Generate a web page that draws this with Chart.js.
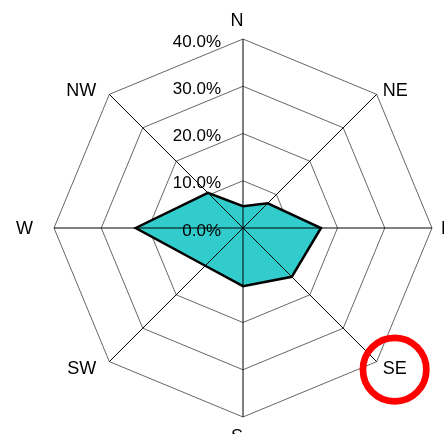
<!DOCTYPE html>
<html>
<head>
<meta charset="utf-8">
<script src="https://cdn.jsdelivr.net/npm/chart.js@4.4.1/dist/chart.umd.min.js"></script>
<style>
  html, body { margin: 0; padding: 0; background: #fff; overflow: hidden; }
  #wrap { position: relative; width: 444px; height: 434px; }
</style>
</head>
<body>
<div id="wrap"><canvas id="windChart" width="444" height="434"></canvas></div>
<script>
// wind direction frequency (%)
const directions = ["N", "NE", "E", "SE", "S", "SW", "W", "NW"];
const frequency = [4.6, 7.4, 16.5, 14.6, 12.3, 11.3, 22.7, 10.5];
const tickValues = [0, 10, 20, 30, 40];
const highlighted = "SE";

const FONT = '"Liberation Sans", Arial, sans-serif';

// angle lines, tick labels, direction labels and the red ring are drawn on top of the fill
const overlay = {
    id: "overlay",
    afterDatasetsDraw(chart) {
        const r = chart.scales.r;
        const ctx = chart.ctx;
        ctx.save();

        ctx.strokeStyle = "#000";
        ctx.lineWidth = 1;
        ctx.beginPath();
        directions.forEach((d, i) => {
            const p = r.getPointPosition(i, r.drawingArea);
            ctx.moveTo(r.xCenter, r.yCenter);
            ctx.lineTo(p.x, p.y);
        });
        ctx.stroke();

        // tick labels, left of the N axis
        ctx.fillStyle = "#000";
        ctx.font = "17px " + FONT;
        ctx.textAlign = "right";
        ctx.textBaseline = "alphabetic";
        r.ticks.forEach(t => {
            const y = r.getPointPositionForValue(0, t.value).y;
            ctx.fillText(t.label, r.xCenter - 22, y + 7.6);
        });

        // direction labels
        ctx.font = "18px " + FONT;
        directions.forEach((d, i) => {
            const p = r.getPointPosition(i, r.drawingArea);
            const c = Math.cos(p.angle), s = Math.sin(p.angle);
            const w = ctx.measureText(d).width;
            let left;
            if (c > 0.1) left = p.x + (c > 0.9 ? 9 : 6);
            else if (c < -0.1) left = p.x - (c < -0.9 ? 21 : 13) - w;
            else left = p.x - 6 - w / 2;
            let cy = p.y;
            if (s < -0.9) cy -= 19;
            else if (s > 0.9) cy += 19;
            else if (s < -0.1) cy -= 4.5;
            else if (s > 0.1) cy += 6;
            ctx.textAlign = "left";
            ctx.fillText(d, left, cy + 6.4);

            if (d === highlighted) {
                ctx.beginPath();
                ctx.strokeStyle = "#ff0000";
                ctx.lineWidth = 6.7;
                ctx.arc(left + w / 2, cy + 2, 31.7, 0, Math.PI * 2);
                ctx.stroke();
            }
        });

        ctx.restore();
    }
};

new Chart(document.getElementById("windChart"), {
    type: "radar",
    data: {
        labels: directions,
        datasets: [{
            data: frequency,
            backgroundColor: "#33cccc",
            borderColor: "#000",
            borderWidth: 2.5,
            pointRadius: 0,
            tension: 0,
            fill: true
        }]
    },
    options: {
        responsive: false,
        animation: false,
        devicePixelRatio: 1,
        layout: { padding: { left: 54, right: 12, top: 39, bottom: 17 } },
        plugins: {
            legend: { display: false },
            tooltip: { enabled: false }
        },
        scales: {
            r: {
                min: tickValues[0],
                max: tickValues[tickValues.length - 1],
                startAngle: 0,
                ticks: {
                    display: false,
                    stepSize: tickValues[1] - tickValues[0],
                    callback: v => v.toFixed(1) + "%"
                },
                pointLabels: { display: false },
                angleLines: { display: false },
                grid: { color: "#666", lineWidth: 1, circular: false }
            }
        }
    },
    plugins: [overlay]
});
</script>
</body>
</html>
